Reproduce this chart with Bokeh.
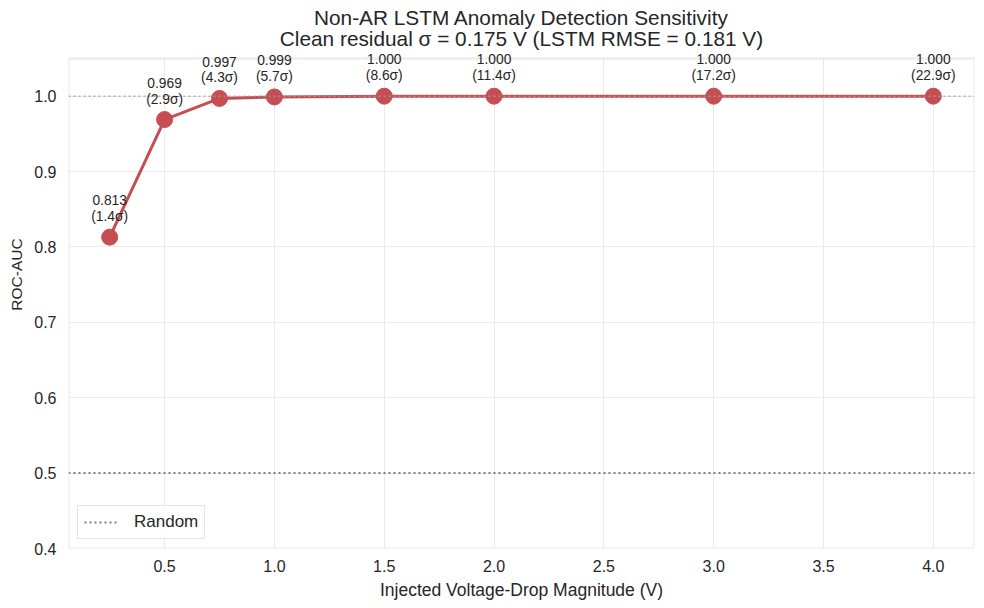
from bokeh.plotting import figure
from bokeh.models import (Span, Legend, LegendItem, Label, BoxAnnotation,
                          FixedTicker, Range1d, NumeralTickFormatter)
from bokeh.embed import file_html
from bokeh.resources import INLINE

# ---- data ----
magnitude = [0.25, 0.5, 0.75, 1.0, 1.5, 2.0, 3.0, 4.0]
roc_auc = [0.813, 0.969, 0.997, 0.999, 1.000, 1.000, 1.000, 1.000]
sigma_mult = [1.4, 2.9, 4.3, 5.7, 8.6, 11.4, 17.2, 22.9]
x_ticks = [0.5, 1.0, 1.5, 2.0, 2.5, 3.0, 3.5, 4.0]
y_ticks = [0.4, 0.5, 0.6, 0.7, 0.8, 0.9, 1.0]
y_limits = [0.4, 1.05]
random_level = 0.5
perfect_level = 1.0
title_line1 = "Non-AR LSTM Anomaly Detection Sensitivity"
title_line2 = "Clean residual σ = 0.175 V (LSTM RMSE = 0.181 V)"

FONT = "Liberation Sans"
TXT = "#262626"
RED = "#C44E52"

# layout (pixels)
BOX_W, BOX_H, HEADER = 906, 490, 58

span_x = max(magnitude) - min(magnitude)
x_lo = min(magnitude) - 0.05 * span_x
x_hi = max(magnitude) + 0.05 * span_x
y_lo, y_hi = y_limits
y_top = y_hi + HEADER * (y_hi - y_lo) / BOX_H   # room for title inside the canvas frame

p = figure(frame_width=BOX_W, frame_height=BOX_H + HEADER, output_backend="svg",
           toolbar_location=None,
           x_range=Range1d(x_lo, x_hi), y_range=Range1d(y_lo, y_top),
           min_border_left=68, min_border_right=8, min_border_top=0,
           min_border_bottom=0)
p.title = None
p.background_fill_color = "white"
p.border_fill_color = "white"
p.outline_line_color = None

for ax in (p.xaxis[0], p.yaxis[0]):
    ax.axis_line_color = None
    ax.major_tick_line_color = None
    ax.minor_tick_line_color = None
    ax.major_tick_out = 0
    ax.major_tick_in = 0
    ax.minor_tick_out = 0
    ax.major_label_text_font = FONT
    ax.major_label_text_font_size = "16px"
    ax.major_label_text_color = TXT
    ax.axis_label_text_font = FONT
    ax.axis_label_text_font_style = "normal"
    ax.axis_label_text_color = TXT

p.xaxis.ticker = FixedTicker(ticks=x_ticks)
p.yaxis.ticker = FixedTicker(ticks=y_ticks)
p.xaxis.formatter = NumeralTickFormatter(format="0.0")
p.yaxis.formatter = NumeralTickFormatter(format="0.0")
p.xaxis.axis_label = "Injected Voltage-Drop Magnitude (V)"
p.yaxis.axis_label = "ROC-AUC"
p.xaxis.axis_label_text_font_size = "17.5px"
p.yaxis.axis_label_text_font_size = "15.5px"
p.xaxis.major_label_standoff = 11
p.yaxis.major_label_standoff = 12
p.xaxis.axis_label_standoff = 5
p.yaxis.axis_label_standoff = 6

p.xgrid.grid_line_color = "#ebebeb"
p.ygrid.grid_line_color = "#ebebeb"
p.xgrid.grid_line_width = 1
p.ygrid.grid_line_width = 1

# reference lines
p.add_layout(Span(location=perfect_level, dimension="width", line_color="#a0a0a0",
                  line_alpha=0.8, line_dash="2 3", line_width=1.6))
rand_r = p.line([x_lo, x_hi], [random_level, random_level], line_color="#808080",
                line_dash="2 3", line_width=2)

# main series
p.line(magnitude, roc_auc, line_color=RED, line_width=3)
p.scatter(magnitude, roc_auc, size=16, fill_color=RED, line_color=RED)

# header area above the axes box: white cover, then the axes box outline
p.add_layout(BoxAnnotation(bottom=y_hi, fill_color="white", fill_alpha=1.0,
                           line_color=None))
p.add_layout(BoxAnnotation(left=x_lo, right=x_hi, bottom=y_lo, top=y_hi,
                           fill_alpha=0.0, line_color="#c4c4c4", line_width=2.4))

# titles
x_mid = (x_lo + x_hi) / 2
for text, dy in ((title_line1, 17), (title_line2, 38)):
    p.add_layout(Label(x=x_mid, y=BOX_H + HEADER - dy, y_units="screen",
                       text=text, text_align="center", text_baseline="middle",
                       text_font=FONT, text_font_size="20.8px", text_color=TXT))

# point annotations
for xi, yi, s in zip(magnitude, roc_auc, sigma_mult):
    p.add_layout(Label(x=xi, y=yi, text=f"{yi:.3f}\n({s:.1f}σ)", y_offset=13,
                       text_align="center", text_baseline="bottom",
                       text_font=FONT, text_font_size="13.8px", text_color=TXT,
                       text_line_height=1.05))

legend = Legend(items=[LegendItem(label="Random", renderers=[rand_r])],
                location="bottom_left", label_text_font=FONT,
                label_text_font_size="17px", label_text_color=TXT,
                border_line_color="#cccccc", border_line_width=1.2,
                background_fill_alpha=0.9, glyph_width=35, padding=6,
                label_standoff=15, spacing=0, margin=9)
p.add_layout(legend)

open("out.html", "w").write(file_html(p, INLINE))
